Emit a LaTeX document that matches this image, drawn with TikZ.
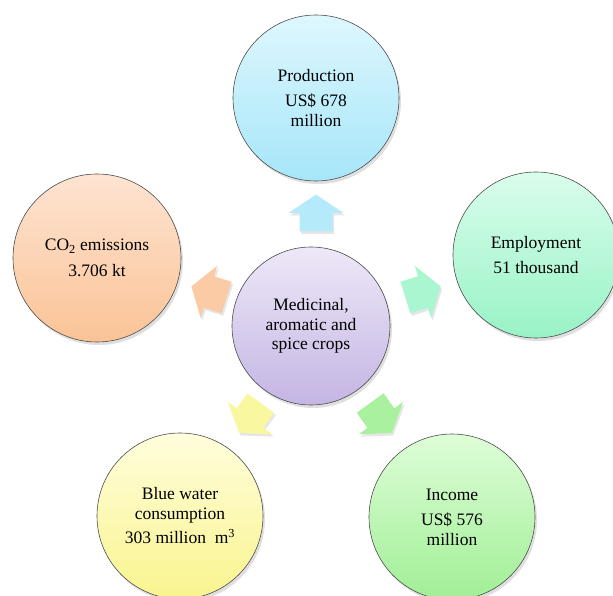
\documentclass[tikz,border=0pt]{standalone}
\usepackage{fontspec}
\setmainfont{Liberation Serif}
\usepackage{tikz}
\usetikzlibrary{shadows}

\definecolor{prodtop}{HTML}{DEF7FE}
\definecolor{prodbot}{HTML}{A6E6F9}
\definecolor{empltop}{HTML}{DAFDEC}
\definecolor{emplbot}{HTML}{98F3C6}
\definecolor{inctop}{HTML}{DEFDD8}
\definecolor{incbot}{HTML}{A0EF95}
\definecolor{watertop}{HTML}{FFFEDC}
\definecolor{waterbot}{HTML}{F9F48E}
\definecolor{cotop}{HTML}{FDE4D2}
\definecolor{cobot}{HTML}{FBC396}
\definecolor{cropstop}{HTML}{EEE8F8}
\definecolor{cropsbot}{HTML}{C4B5E3}

\begin{document}
\begin{tikzpicture}[
  x=1pt,y=1pt,
  font=\fontsize{17.5}{19.5}\selectfont,
  bubble/.style={circle,draw=gray!60!black,line width=0.6pt,align=center,
                 minimum size=166pt,inner sep=0pt,
                 drop shadow={opacity=0.25,shadow xshift=2pt,shadow yshift=-3pt}},
  pointer/.style={draw=none,
                  drop shadow={opacity=0.2,shadow xshift=1.5pt,shadow yshift=-2.5pt}},
]
\useasboundingbox (0,0) rectangle (613,595);
% ---------- hub ----------
\node[bubble,minimum size=158pt,top color=cropstop,bottom color=cropsbot] (crops) at (311,269)
   {Medicinal,\\aromatic and\\spice crops};
% ---------- satellites ----------
\node[bubble,top color=prodtop,bottom color=prodbot] (prod) at (316,497)
   {Production\\[6pt]US\$ 678\\million};
\node[bubble,top color=empltop,bottom color=emplbot] (empl) at (536,340)
   {Employment\\[6pt]51 thousand};
\node[bubble,top color=inctop,bottom color=incbot] (inc) at (452,78)
   {Income\\[6pt]US\$ 576\\million};
\node[bubble,top color=watertop,bottom color=waterbot] (water) at (180,79)
   {Blue water\\consumption\\[5pt]303 million~ m\textsuperscript{3}};
\node[bubble,minimum size=168pt,top color=cotop,bottom color=cobot] (co2) at (97,337)
   {CO\textsubscript{2} emissions\\[6pt]3.706 kt};
% ---------- block arrows out of the hub ----------
\foreach \px/\py/\ang/\col in {316/382/90/prodbot!75!prodtop, 423/303/17.5/emplbot!75!empltop,
                               381/177/-54/incbot!85!inctop, 250/177/-126/waterbot!75!watertop,
                               209/303/162.5/cobot!75!cotop}{
  \fill[pointer,\col,shift={(\px,\py)},rotate=\ang]
    (-18.5,-16.5) -- (0,-16.5) -- (0,-27.5) -- (18.5,0) -- (0,27.5) -- (0,16.5) -- (-18.5,16.5) -- cycle;
}
\end{tikzpicture}
\end{document}
